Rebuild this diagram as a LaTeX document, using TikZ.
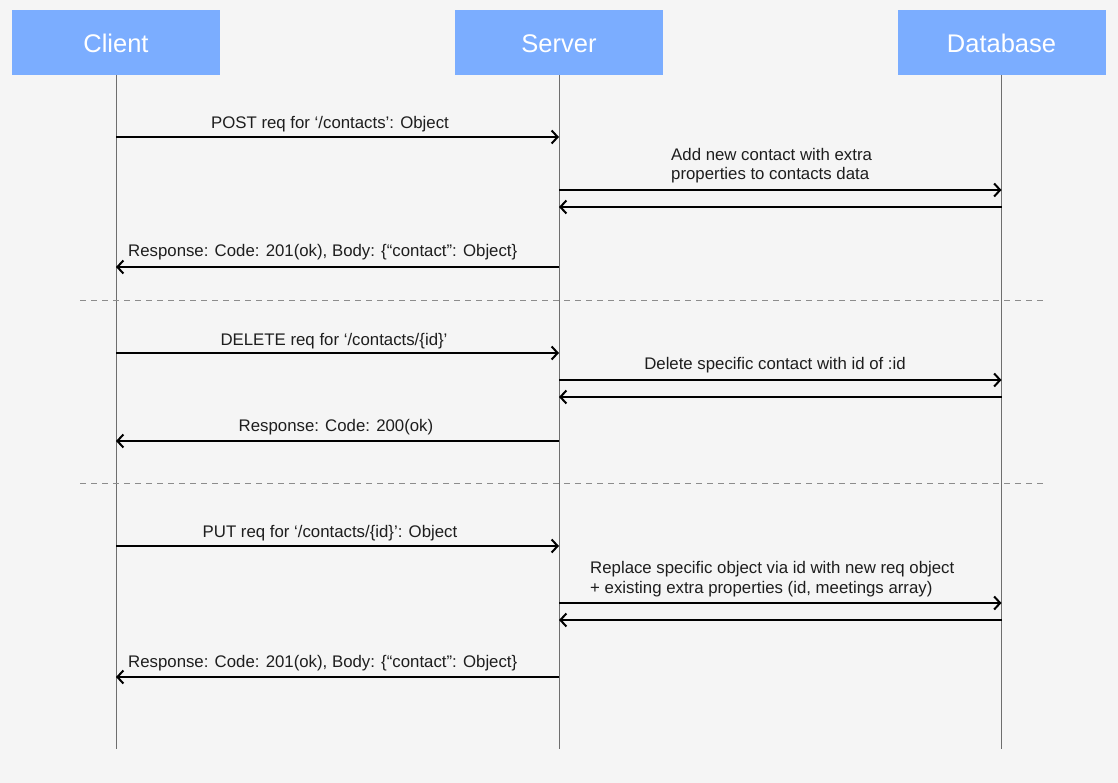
\documentclass[tikz,border=0pt]{standalone}
\usepackage{fontspec}
\setmainfont{Liberation Sans}
\usetikzlibrary{arrows.meta}

\definecolor{bgcol}{HTML}{F5F5F5}
\definecolor{boxblue}{HTML}{7BADFF}
\definecolor{ink}{HTML}{1E1E1E}
\definecolor{linegray}{HTML}{6E6E6E}

\begin{document}
\begin{tikzpicture}[x=1pt,y=-1pt,
	actor/.style={fill=boxblue,minimum width=208pt,minimum height=65pt,inner sep=0pt,
		text height=21pt,text depth=0pt,text=white,font=\fontsize{25.5}{28}\selectfont},
	life/.style={draw=linegray,line width=1pt},
	msg/.style={draw=black,line width=2pt,-{Straight Barb[length=6pt,width=13pt,line width=2pt]}},
	lbl/.style={inner sep=0pt,text=ink,font=\fontsize{16.8}{19.5}\selectfont},
	sepline/.style={draw=black!45,line width=0.9pt,dash pattern=on 6pt off 5pt}]
	
	% background and margins
	\fill[bgcol] (0,0) rectangle (1118,783);
	\useasboundingbox (0,0) rectangle (1118,783);
	
	% actors
	\node[actor] (client) at (116,42.5)  {Client};
	\node[actor] (server) at (559,42.5) {Server};
	\node[actor] (db)     at (1001.5,42.5) {Database};
	
	\coordinate (clientend) at (116,749);
	\coordinate (serverend) at (559,749);
	\coordinate (dbend)     at (1001.5,749);
	
	% lifelines
	\path[life] (client) edge (clientend);
	\path[life] (server) edge (serverend);
	\path[life] (db) edge (dbend);
	
	% message rows
	\coordinate (r1) at (0,137);
	\coordinate (r2) at (0,190);
	\coordinate (r3) at (0,207);
	\coordinate (r4) at (0,267);
	\coordinate (r5) at (0,353);
	\coordinate (r6) at (0,380);
	\coordinate (r7) at (0,397);
	\coordinate (r8) at (0,441);
	\coordinate (r9) at (0,546);
	\coordinate (r10) at (0,603);
	\coordinate (r11) at (0,620);
	\coordinate (r12) at (0,677);
	
	% create contact
	\draw[msg] (client |- r1) -- (server |- r1);
	\draw[msg] (server |- r2) -- (db |- r2);
	\draw[msg] (db |- r3) -- (server |- r3);
	\draw[msg] (server |- r4) -- (client |- r4);
	\node[lbl,anchor=base] (postlbl) at (330,129) {POST req for ‘/contacts’: Object};
	\node[lbl,anchor=base west,align=left] (addlbl) at (671,180) {Add new contact with extra\\properties to contacts data};
	\node[lbl,anchor=base west] (resp1lbl) at (128,257) {Response: Code: 201(ok), Body: \{“contact”: Object\}};
	
	\coordinate (sepa1) at (80,300);
	\coordinate (sepa2) at (1043,300);
	\path[sepline] (sepa1) edge (sepa2);
	
	% delete contact
	\draw[msg] (client |- r5) -- (server |- r5);
	\draw[msg] (server |- r6) -- (db |- r6);
	\draw[msg] (db |- r7) -- (server |- r7);
	\draw[msg] (server |- r8) -- (client |- r8);
	\node[lbl,anchor=base] (dellbl) at (334,345) {DELETE req for ‘/contacts/\{id\}’};
	\node[lbl,anchor=base] (delspeclbl) at (775,369) {Delete specific contact with id of :id};
	\node[lbl,anchor=base] (resp2lbl) at (336,431) {Response: Code: 200(ok)};
	
	\coordinate (sepb1) at (80,483);
	\coordinate (sepb2) at (1043,483);
	\path[sepline] (sepb1) edge (sepb2);
	
	% replace contact
	\draw[msg] (client |- r9) -- (server |- r9);
	\draw[msg] (server |- r10) -- (db |- r10);
	\draw[msg] (db |- r11) -- (server |- r11);
	\draw[msg] (server |- r12) -- (client |- r12);
	\node[lbl,anchor=base] (putlbl) at (330,537) {PUT req for ‘/contacts/\{id\}’: Object};
	\node[lbl,anchor=base west,align=left] (replbl) at (590,593) {Replace specific object via id with new req object\\+ existing extra properties (id, meetings array)};
	\node[lbl,anchor=base west] (resp3lbl) at (128,667) {Response: Code: 201(ok), Body: \{“contact”: Object\}};
	
\end{tikzpicture}
\end{document}
